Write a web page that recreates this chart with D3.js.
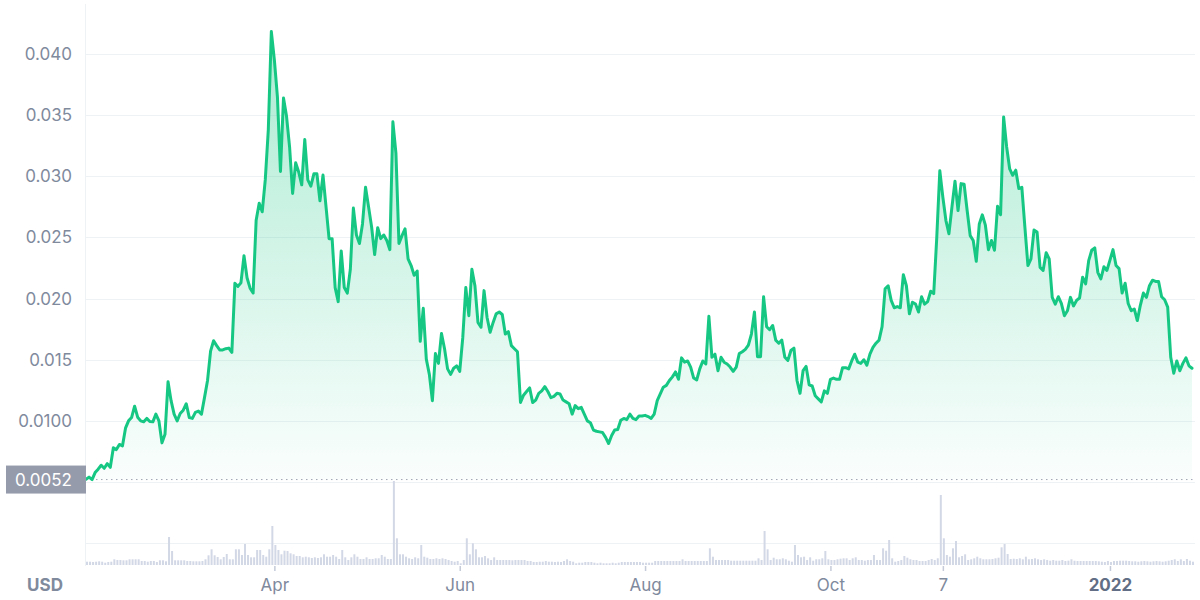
<!DOCTYPE html>
<html><head><meta charset="utf-8">
<script src="https://cdn.jsdelivr.net/npm/d3@7"></script>
<style>
html,body{margin:0;padding:0;background:#fff;}
svg{display:block;font-family:Inter,"Noto Sans",sans-serif;}
</style></head><body>
<svg id="chart" width="1200" height="600"></svg>
<script>
// ---- data ----
const startDate = "2021-01-29";
const prices = [
0.00522,0.00540,0.00520,0.00577,0.00605,0.00637,0.00612,0.00650,0.00620,0.00780,
0.00765,0.00807,0.00795,0.00940,0.01000,0.01027,0.01120,0.01030,0.01000,0.00992,
0.01020,0.00995,0.00992,0.01055,0.01000,0.00820,0.00890,0.01320,0.01165,0.01055,
0.01000,0.01060,0.01087,0.01140,0.01027,0.01020,0.01070,0.01080,0.01055,0.01190,
0.01330,0.01570,0.01655,0.01615,0.01580,0.01580,0.01590,0.01595,0.01560,0.02125,
0.02100,0.02130,0.02350,0.02170,0.02085,0.02045,0.02640,0.02780,0.02710,0.02970,
0.03380,0.04183,0.03950,0.03650,0.03040,0.03640,0.03490,0.03240,0.02860,0.03110,
0.03035,0.02930,0.03300,0.02970,0.02920,0.03020,0.03020,0.02800,0.03010,0.02750,
0.02490,0.02490,0.02090,0.01975,0.02390,0.02090,0.02045,0.02240,0.02740,0.02520,
0.02450,0.02610,0.02910,0.02750,0.02585,0.02360,0.02580,0.02490,0.02520,0.02475,
0.02400,0.03445,0.03190,0.02450,0.02515,0.02570,0.02325,0.02270,0.02190,0.02225,
0.01650,0.01920,0.01505,0.01380,0.01165,0.01550,0.01470,0.01715,0.01590,0.01425,
0.01380,0.01430,0.01450,0.01405,0.01680,0.02090,0.01860,0.02240,0.02105,0.01805,
0.01765,0.02065,0.01845,0.01725,0.01805,0.01875,0.01890,0.01870,0.01710,0.01730,
0.01615,0.01590,0.01565,0.01150,0.01210,0.01240,0.01270,0.01150,0.01170,0.01225,
0.01245,0.01280,0.01240,0.01190,0.01200,0.01225,0.01220,0.01170,0.01155,0.01140,
0.01055,0.01125,0.01100,0.01110,0.01055,0.01000,0.00985,0.00925,0.00915,0.00910,
0.00905,0.00865,0.00815,0.00880,0.00925,0.00930,0.01005,0.01020,0.01010,0.01055,
0.01020,0.01010,0.01040,0.01040,0.01045,0.01035,0.01020,0.01055,0.01165,0.01220,
0.01275,0.01290,0.01330,0.01360,0.01400,0.01340,0.01515,0.01480,0.01490,0.01440,
0.01350,0.01335,0.01425,0.01490,0.01465,0.01855,0.01520,0.01545,0.01410,0.01520,
0.01480,0.01465,0.01440,0.01405,0.01440,0.01550,0.01565,0.01585,0.01620,0.01710,
0.01890,0.01525,0.01525,0.02015,0.01770,0.01745,0.01780,0.01660,0.01635,0.01660,
0.01520,0.01495,0.01575,0.01595,0.01330,0.01225,0.01410,0.01445,0.01295,0.01285,
0.01205,0.01180,0.01155,0.01245,0.01225,0.01340,0.01350,0.01340,0.01340,0.01435,
0.01435,0.01425,0.01490,0.01545,0.01480,0.01470,0.01500,0.01455,0.01545,0.01600,
0.01635,0.01660,0.01770,0.02080,0.02105,0.01985,0.01925,0.01935,0.01925,0.02195,
0.02105,0.01875,0.01970,0.01955,0.01890,0.02015,0.01955,0.01975,0.02060,0.02040,
0.02500,0.03045,0.02830,0.02640,0.02530,0.02750,0.02960,0.02720,0.02940,0.02935,
0.02720,0.02515,0.02475,0.02305,0.02610,0.02685,0.02600,0.02400,0.02475,0.02395,
0.02755,0.02685,0.03485,0.03240,0.03060,0.03008,0.03050,0.02900,0.02910,0.02585,
0.02270,0.02325,0.02560,0.02545,0.02255,0.02230,0.02375,0.02325,0.02010,0.01955,
0.02015,0.01960,0.01860,0.01900,0.02010,0.01940,0.01985,0.02005,0.02175,0.02120,
0.02310,0.02395,0.02415,0.02215,0.02160,0.02260,0.02230,0.02315,0.02400,0.02270,
0.02245,0.02045,0.02125,0.01960,0.01900,0.01915,0.01820,0.01945,0.02045,0.02010,
0.02105,0.02150,0.02140,0.02140,0.02015,0.01990,0.01930,0.01520,0.01390,0.01490,
0.01410,0.01470,0.01515,0.01450,0.01430
];
// daily volume (millions USD, estimated)
const volumes = [
3.3,3.3,3,3.3,3.7,3.3,2.3,3,3.3,5.7,
5,5,4.7,4.7,5.7,5.7,5.7,5.7,4,4,
3.3,4,4,3,4.7,4.7,3.7,28,14,4.7,
4.7,4.7,4.7,4,4,3.7,3.7,3.7,4,5.7,
9.7,15.7,9.7,8,5.7,8,11,5.7,5.7,15.7,
15.7,10,21,10,7.7,7.7,15,15,10,8.3,
15.7,39,20,15,10.7,14.3,14,11.7,10.7,9,
9,7.7,8.3,7.7,7,7.7,7,7.7,10.7,8.3,
8.3,10,8.3,6,15,7.7,5,7.7,10.7,8.3,
6,6,7.7,6,6,6.7,6.7,10,8.3,6,
6,84,26.7,10.7,10.7,8.3,6.7,6,7.7,6.7,
20,8.3,7.3,6,6,6.7,6,6.7,6,5,
4,3.3,4,1.7,5,26.7,10.7,21.7,15.7,7.7,
7.7,9,6.7,5,7.7,5,5,5,5,5,
4.7,5,5,5,5,4,4,3,3,3.3,
3.3,4,3.3,3.3,3,3.3,3,4,5.7,4,
3.3,1.7,2.3,2.3,3,3,3,2.3,1.7,2.3,
1.7,1.7,1.7,2.3,1.7,2.3,3,3,3,3,
3,3,3,2.3,2.3,2.3,2.3,4,4,4,
4,4,4,4,4,4,5.7,4,4,4,
4,4,4,4,4,16.7,8.3,5,5,5,
5,5,4.3,4.3,4.3,4.3,4.3,4.3,4.3,4.3,
4.3,6.7,5,34,15.7,5,7.3,5.7,5.7,6.7,
5.7,4.3,3.3,20,10,7.7,8.3,5,7.7,4.3,
5.7,5.7,6.7,14,5.7,5,5,5.7,6.3,6.7,
6.7,5,6.7,7.7,5,5,4.3,5,5,10,
5,5,16.7,14.3,25,6.7,3.3,4,5,9,
7.3,5.7,5,5,4,4,4,5,6,5,
6.7,70,26.7,10,8.3,16.7,24,7.7,9,10.7,
5,5.7,6.7,8.3,6.7,5.7,5.7,5.7,6,6.7,
7.3,17.7,21,11,6,6.3,6,6.7,5.7,8.3,
5.7,6,6.7,5.7,5,5.7,5,4.3,5,4.3,
4.3,5,4,4.3,5.7,4.3,4,4,4,4,
4,4,4,3.7,3.3,3,4,3,4,4,
4.3,4.3,4.3,4,3.7,3.7,3.3,3.7,4,3.7,
3.3,3.7,4,3.7,3.3,3.7,4.3,5,5.7,4,
5.7,4,6,4.3,3.3
];
const gridValues = [0.005,0.010,0.015,0.020,0.025,0.030,0.035,0.040];
const priceTicks = [0.010,0.015,0.020,0.025,0.030,0.035,0.040];
const priceTickLabels = ["0.0100","0.015","0.020","0.025","0.030","0.035","0.040"];
const baseValue = 0.0052;
const baseLabel = "0.0052";
const volumeGrid = [22];
const timeTicks = ["2021-04-01","2021-06-01","2021-08-01","2021-10-01","2021-11-07","2022-01-01"];
const timeTickLabels = ["Apr","Jun","Aug","Oct","7","2022"];
const boldTickLabels = ["2022"];
const currencyLabel = "USD";

// ---- layout ----
const L = 86, R = 1195, PX_END = 1192;
const parse = d3.utcParse("%Y-%m-%d");
const t0 = parse(startDate);
const data = prices.map((p, i) => ({date: d3.utcDay.offset(t0, i), price: p, volume: volumes[i]}));

const svg = d3.select("#chart");
const x = d3.scaleUtc().domain([data[0].date, data[data.length-1].date]).range([L, PX_END]);
const y = d3.scaleLinear().domain([0.005, 0.040]).range([482, 54]);
const yv = d3.scaleLinear().domain([0, d3.max(volumes)]).range([565, 481]);

// gradient
const defs = svg.append("defs");
const grad = defs.append("linearGradient").attr("id","areaGrad")
  .attr("gradientUnits","userSpaceOnUse").attr("x1",0).attr("x2",0)
  .attr("y1", y(0.042)).attr("y2", y(baseValue));
grad.append("stop").attr("offset","0%").attr("stop-color","#16c784").attr("stop-opacity",0.36);
grad.append("stop").attr("offset","100%").attr("stop-color","#16c784").attr("stop-opacity",0.02);

// grid
svg.append("g").selectAll("line").data(gridValues).join("line")
  .attr("x1", L).attr("x2", R).attr("y1", d => Math.round(y(d))+0.5).attr("y2", d => Math.round(y(d))+0.5)
  .attr("stroke", "#eff2f5").attr("stroke-width", 1);
svg.append("g").selectAll("line").data(volumeGrid).join("line")
  .attr("x1", L).attr("x2", R).attr("y1", d => Math.round(yv(d))+0.5).attr("y2", d => Math.round(yv(d))+0.5)
  .attr("stroke", "#eff2f5").attr("stroke-width", 1);
svg.append("line").attr("x1", L-0.5).attr("x2", L-0.5).attr("y1", 4).attr("y2", 566)
  .attr("stroke", "#eff2f5").attr("stroke-width", 1);

// volume bars
svg.append("g").selectAll("rect").data(data).join("rect")
  .attr("x", d => x(d.date)).attr("width", 2)
  .attr("y", d => yv(d.volume)).attr("height", d => yv(0) - yv(d.volume))
  .attr("fill", "#d3d8e6");

// area + line
svg.append("path").datum(data)
  .attr("d", d3.area().x(d => x(d.date)).y0(y(baseValue)).y1(d => y(d.price)))
  .attr("fill", "url(#areaGrad)");
svg.append("line").attr("x1", L).attr("x2", R).attr("y1", y(baseValue)).attr("y2", y(baseValue))
  .attr("stroke", "#a1a7b3").attr("stroke-width", 1).attr("stroke-dasharray", "1.5,3.5");
svg.append("path").datum(data)
  .attr("d", d3.line().x(d => x(d.date)).y(d => y(d.price)))
  .attr("fill", "none").attr("stroke", "#16c784").attr("stroke-width", 3)
  .attr("stroke-linejoin", "round").attr("stroke-linecap", "round");

// y axis
const yAxis = svg.append("g").attr("transform", `translate(${L},0)`)
  .call(d3.axisLeft(y).tickValues(priceTicks).tickFormat((d, i) => priceTickLabels[i]).tickSize(0).tickPadding(14));
yAxis.select(".domain").remove();
yAxis.selectAll("text").attr("fill", "#808a9d").attr("font-size", 17).attr("font-family", "Inter");

// base label
svg.append("rect").attr("x", 6).attr("y", y(baseValue) - 14).attr("width", L - 6).attr("height", 28).attr("fill", "#959bab");
svg.append("text").attr("x", 72).attr("y", y(baseValue)).attr("dy", "0.35em").attr("text-anchor", "end")
  .attr("fill", "#ffffff").attr("font-size", 17).text(baseLabel);

// x axis
const xAxis = svg.append("g").attr("transform", "translate(0,566)")
  .call(d3.axisBottom(x).tickValues(timeTicks.map(parse)).tickFormat((d, i) => timeTickLabels[i]).tickSize(5).tickPadding(8));
xAxis.select(".domain").remove();
xAxis.selectAll("line").attr("stroke", "#c5cbd8").attr("stroke-width", 1.5);
xAxis.selectAll("text").attr("font-size", 17).attr("font-family", "Inter")
  .attr("font-weight", (d, i) => boldTickLabels.includes(timeTickLabels[i]) ? 700 : 400)
  .attr("fill", (d, i) => boldTickLabels.includes(timeTickLabels[i]) ? "#616e85" : "#808a9d");

svg.append("text").attr("x", 45).attr("y", 591).attr("text-anchor", "middle")
  .attr("fill", "#808a9d").attr("font-size", 17).attr("font-weight", 700).text(currencyLabel);
</script>
</body></html>
